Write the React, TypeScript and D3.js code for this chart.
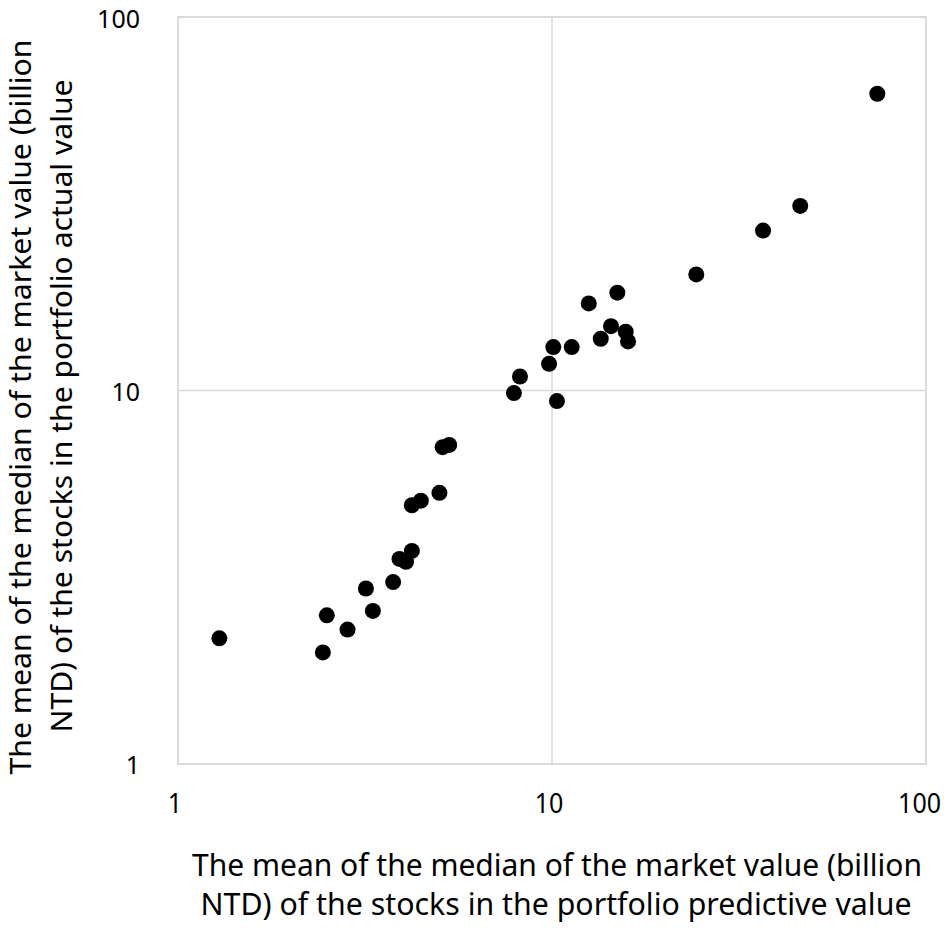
import React from "react";
import * as d3 from "d3";

const xValues = [1.29, 2.44, 2.5, 2.84, 3.32, 3.18, 3.76, 3.91, 4.07, 4.22, 4.22, 4.46, 5.0, 5.1, 5.31, 7.91, 8.21, 10.31, 9.82, 10.08, 11.29, 13.5, 14.38, 12.54, 14.95, 15.74, 15.97, 24.31, 36.67, 46.1, 74.1];
const yValues = [2.17, 1.99, 2.5, 2.29, 2.57, 2.95, 3.07, 3.54, 3.48, 3.72, 4.93, 5.07, 5.32, 7.05, 7.15, 9.84, 10.9, 9.37, 11.79, 13.07, 13.07, 13.76, 14.87, 17.11, 18.28, 14.37, 13.53, 20.46, 26.8, 31.2, 62.3];
const tickValues = [1, 10, 100];
const xTitle = ["The mean of the median of the market value (billion", "NTD) of the stocks in the portfolio predictive value"];
const yTitle = ["The mean of the median of the market value (billion", "NTD) of the stocks in the portfolio actual value"];

const W = 944, H = 928;
const L = 178, R = 926, T = 17, B = 764;
const FONT = "'Noto Sans', 'Open Sans', sans-serif";

export default function App() {
  const x = d3.scaleLog().domain([1, 100]).range([L, R]);
  const y = d3.scaleLog().domain([1, 100]).range([B, T]);
  const grid = "#d9d9d9";
  const tw = (t: number) => String(t).length * 14.3;
  return (
    <svg width={W} height={H} viewBox={`0 0 ${W} ${H}`} style={{ position: "absolute", left: 0, top: 0, background: "#fff" }}>
      <rect x={0} y={0} width={W} height={H} fill="#fff" />
      {tickValues.map((t) => (
        <line key={"gx" + t} x1={x(t)} x2={x(t)} y1={T} y2={B} stroke={grid} strokeWidth={1.5} />
      ))}
      {tickValues.map((t) => (
        <line key={"gy" + t} x1={L} x2={R} y1={y(t)} y2={y(t)} stroke={grid} strokeWidth={1.5} />
      ))}
      <rect x={L} y={T} width={R - L} height={B - T} fill="none" stroke={grid} strokeWidth={1.5} />
      {xValues.map((v, i) => (
        <circle key={i} cx={x(v)} cy={y(yValues[i])} r={8} fill="#000" />
      ))}
      {tickValues.map((t) => (
        <text key={"tx" + t} x={Math.min(x(t) - 3, 941 - tw(t) / 2)} y={813} textAnchor="middle" fontFamily={FONT} fontSize={27} fill="#000"
          textLength={tw(t)} lengthAdjust="spacingAndGlyphs">{t}</text>
      ))}
      {tickValues.map((t) => (
        <text key={"ty" + t} x={140 - tw(t)} y={Math.max(y(t) + 10, 28)} textAnchor="start" fontFamily={FONT} fontSize={26} fill="#000"
          textLength={tw(t)} lengthAdjust="spacingAndGlyphs">{t}</text>
      ))}
      <text x={557} y={876} textAnchor="middle" fontFamily={FONT} fontSize={30} fill="#000" textLength={730} lengthAdjust="spacingAndGlyphs">{xTitle[0]}</text>
      <text x={556} y={915} textAnchor="middle" fontFamily={FONT} fontSize={30} fill="#000" textLength={711} lengthAdjust="spacingAndGlyphs">{xTitle[1]}</text>
      <g transform="translate(31,407) rotate(-90)">
        <text x={0} y={0} textAnchor="middle" fontFamily={FONT} fontSize={29} fill="#000" textLength={735} lengthAdjust="spacingAndGlyphs">{yTitle[0]}</text>
      </g>
      <g transform="translate(72,406) rotate(-90)">
        <text x={0} y={0} textAnchor="middle" fontFamily={FONT} fontSize={29} fill="#000" textLength={653} lengthAdjust="spacingAndGlyphs">{yTitle[1]}</text>
      </g>
    </svg>
  );
}
